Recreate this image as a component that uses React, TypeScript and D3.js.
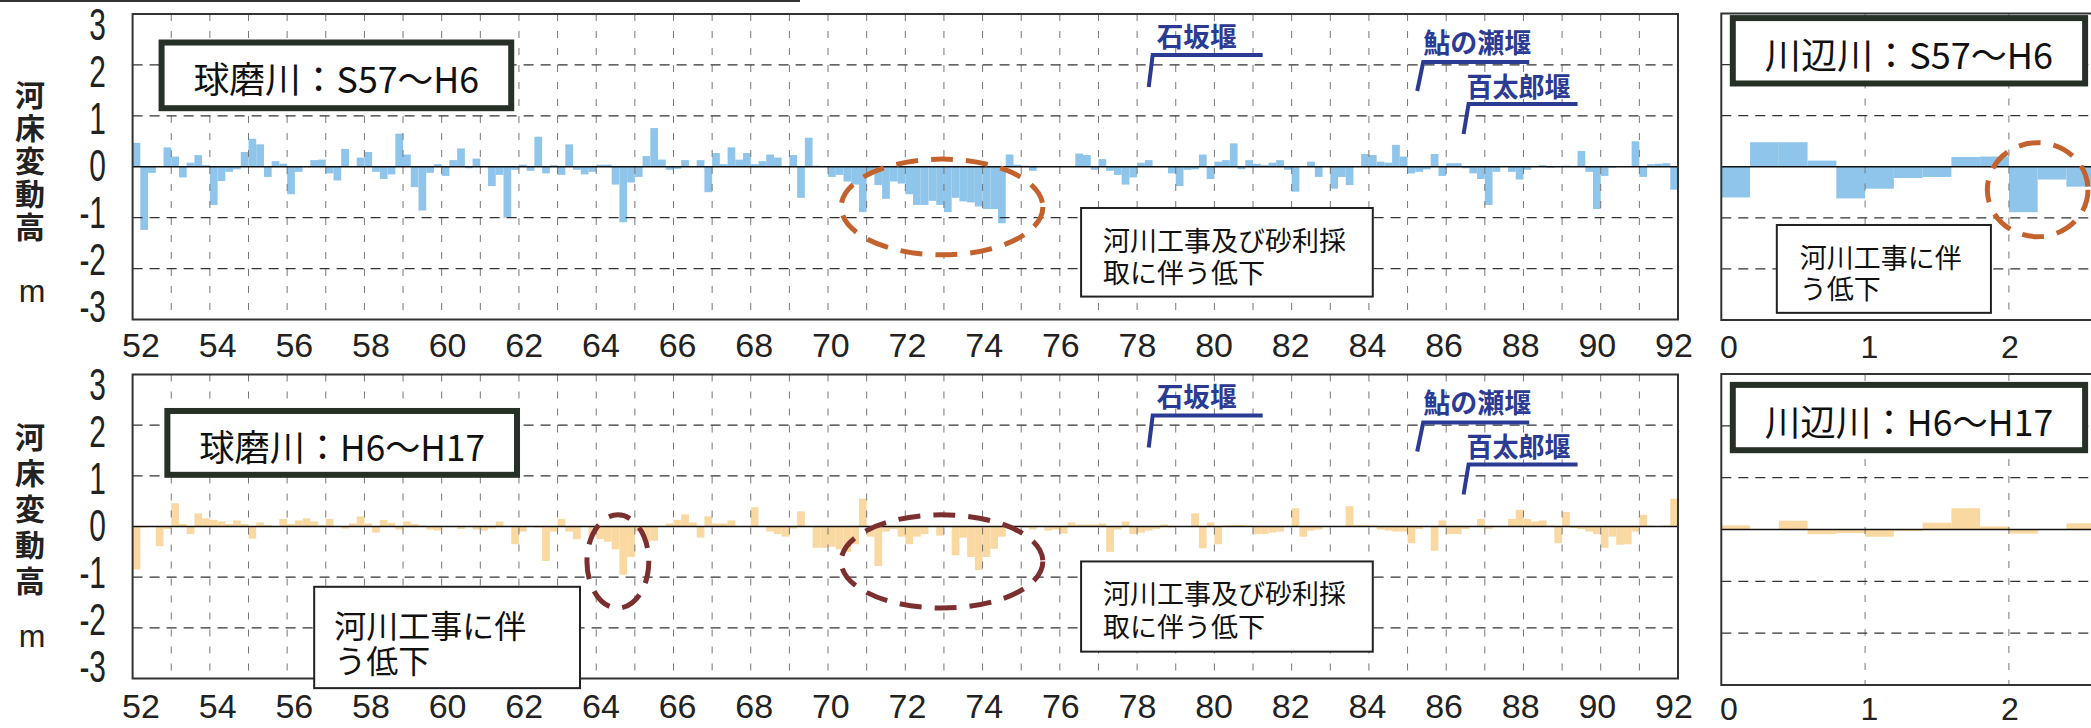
import React from 'react';
import * as d3 from 'd3';

// ---------------- DATA ----------------
// Kuma river (球磨川): 0.2 km sections from 52 km to 92 km
const kumaStartKm = 52;
const kumaEndKm = 92;
const sectionStep = 0.2;
const kumaS57H6 = [
  0.47, -1.24, -0.12, 0, 0.38, 0.2, -0.21, 0.08, 0.23, 0.03,
  -0.75, -0.28, -0.1, -0.05, 0.29, 0.55, 0.44, -0.2, 0.11, 0.06,
  -0.54, -0.1, 0.01, 0.13, 0.14, -0.13, -0.27, 0.35, 0.01, 0.18,
  0.29, -0.1, -0.24, -0.15, 0.65, 0.24, -0.4, -0.86, -0.12, 0.05,
  -0.18, 0.13, 0.36, -0.03, 0.16, 0.01, -0.38, -0.16, -1.0, -0.06,
  0.04, -0.08, 0.59, -0.13, 0.03, -0.16, 0.44, -0.06, -0.15, -0.1,
  0.04, 0.04, -0.35, -1.09, -0.31, -0.2, 0.21, 0.76, 0.14, -0.06,
  -0.04, 0.13, 0.01, 0.13, -0.5, 0.27, 0.05, 0.38, 0.14, 0.27,
  0.05, 0.11, 0.24, 0.18, 0.01, 0.23, -0.61, 0.57, 0.02, 0.01,
  -0.2, -0.16, -0.29, -0.35, -0.89, -0.16, -0.36, -0.63, -0.29, -0.33,
  -0.54, -0.75, -0.75, -0.67, -0.75, -0.89, -0.61, -0.68, -0.7, -0.78,
  -0.83, -0.83, -1.11, 0.24, 0.04, 0.02, -0.08, 0, 0.01, 0,
  0.01, 0, 0.26, 0.23, -0.06, 0.15, -0.08, -0.16, -0.35, -0.21,
  0.08, 0.13, 0.01, 0, -0.13, -0.38, -0.06, -0.05, 0.24, -0.24,
  0.1, 0.13, 0.46, -0.05, 0.13, 0.06, 0.03, 0.08, 0.13, -0.06,
  -0.49, 0, 0.1, -0.2, 0.01, -0.43, -0.2, -0.36, 0, 0.25,
  0.23, 0.1, 0.08, 0.43, 0.2, -0.13, -0.1, -0.05, 0.25, -0.18,
  0.07, 0.07, -0.03, -0.13, -0.24, -0.75, -0.1, 0, -0.1, -0.25,
  -0.06, 0, 0.03, -0.02, 0, 0.02, 0, 0.31, -0.1, -0.83,
  -0.18, -0.02, 0, 0, 0.5, -0.2, 0.05, 0.06, 0.07, -0.45,
];
const kumaH6H17 = [
  -0.85, -0.02, 0, -0.39, -0.05, 0.46, 0.05, -0.15, 0.26, 0.16,
  0.13, 0.1, 0.05, 0.12, 0.05, -0.24, 0.08, 0.03, 0, 0.15,
  0.05, 0.12, 0.16, 0.1, 0.03, 0.15, 0, -0.04, 0.06, 0.2,
  0.06, -0.12, 0.13, 0.07, -0.06, 0.1, 0.05, 0.02, -0.06, -0.08,
  0, 0, -0.05, 0, -0.06, -0.08, -0.04, 0.1, 0, -0.35,
  -0.1, 0, -0.02, -0.68, -0.1, 0.15, -0.1, -0.25, 0, -0.2,
  -0.25, -0.3, -0.45, -0.95, -0.6, -0.1, -0.3, -0.28, 0, 0.06,
  0.13, 0.24, 0.08, -0.22, 0.2, 0.06, 0.06, 0.12, 0, 0,
  0.38, 0, -0.1, -0.15, -0.2, -0.04, 0.3, 0, -0.42, -0.42,
  -0.4, -0.45, -0.5, -0.35, 0.55, -0.2, -0.78, -0.1, -0.05, -0.2,
  -0.35, -0.2, -0.15, 0, -0.18, 0, -0.57, -0.22, -0.6, -0.86,
  -0.6, -0.44, -0.2, 0, 0, -0.02, -0.06, 0, -0.08, -0.06,
  -0.14, 0.08, 0.04, 0.04, 0.04, 0.06, -0.5, -0.06, 0.1, -0.15,
  -0.12, -0.08, -0.05, 0.04, -0.02, 0, 0, 0.26, -0.43, 0.08,
  -0.35, 0.02, 0.03, 0.03, 0.02, -0.15, -0.15, -0.12, -0.1, 0,
  0.36, -0.2, -0.08, -0.06, 0, 0, 0, 0.4, 0.03, 0.03,
  0.02, -0.06, -0.08, -0.1, -0.1, -0.33, -0.05, 0, -0.48, 0.12,
  -0.15, -0.15, -0.05, 0, 0.15, -0.05, 0, 0, 0.15, 0.33,
  0.15, 0.1, 0.12, 0.02, -0.33, 0.29, -0.03, -0.05, -0.1, -0.15,
  -0.42, -0.2, -0.36, -0.35, -0.1, 0.23, 0.02, 0, 0.02, 0.55,
];
const kumaTicks = [52, 54, 56, 58, 60, 62, 64, 66, 68, 70, 72, 74, 76, 78, 80, 82, 84, 86, 88, 90, 92];

// Kawabe river (川辺川): 0.2 km sections from 0 km (visible part)
const kawabeStartKm = 0;
const kawabeS57H6 = [-0.6, 0.48, 0.48, 0.12, -0.62, -0.43, -0.22, -0.2, 0.19, 0.2, -0.89, -0.25, -0.39];
const kawabeH6H17 = [0.08, 0, 0.17, -0.09, -0.07, -0.14, -0.03, 0.13, 0.41, 0.06, -0.08, 0, 0.12];
const kawabeTicks = [0, 1, 2];

const yTicks = [3, 2, 1, 0, -1, -2, -3];
const yGrid = [2, 1, -1, -2];
const yTitle = '河床変動高';
const yUnit = 'm';

const weirNames = ['石坂堰', '鮎の瀬堰', '百太郎堰'];
const weirKm = [78.3, 85.25, 86.45];

// ---------------- STYLE / LAYOUT ----------------
const W = 2091;
const H = 728;
const JP = '"Noto Sans CJK JP", "Noto Sans", sans-serif';
const LAT = '"Liberation Sans", Arial, sans-serif';
const WEIR_COLOR = '#2b3b94';

// weir bracket offsets (px relative to weir x and panel top)
const weirStyle = [
  { topDx: 4, topDy: 41, botDy: 73, endDx: 114, textDx: 48, textDy: 21, tw: 80 },
  { topDx: 6, topDy: 48, botDy: 77, endDx: 112, textDx: 60, textDy: 27, tw: 108 },
  { topDx: 5, topDy: 90, botDy: 120, endDx: 114, textDx: 55, textDy: 71, tw: 104 },
];

const kumaPanels = [
  {
    top: 14, bottom: 319.5, values: kumaS57H6, color: '#8fc5ea',
    labelY: 345, yLabelZero: 166, yTitleTop: 80, yTitleSpacing: 3, mY: 291,
    title: '球磨川：S57～H6', titleBox: { k0: 52.75, k1: 61.8, v0: 2.44, v1: 1.15 },
    notes: [{ k0: 76.55, k1: 84.1, v0: -0.81, v1: -2.55, fs: 27, pad: 22, padTop: 16, lh: 32, lines: ['河川工事及び砂利採', '取に伴う低下'] }],
    ellipses: [{ k: 72.95, v: -0.79, rk: 2.61, rv: 0.94, color: '#c4622e' }],
  },
  {
    top: 374.5, bottom: 678.5, values: kumaH6H17, color: '#f9d8a2',
    labelY: 706, yLabelZero: 526, yTitleTop: 422, yTitleSpacing: 6, mY: 636,
    title: '球磨川：H6～H17', titleBox: { k0: 52.9, k1: 61.95, v0: 2.28, v1: 1.02 },
    notes: [
      { k0: 56.7, k1: 63.58, v0: -1.19, v1: -3.19, fs: 32, pad: 20, padTop: 20, lh: 35, lines: ['河川工事に伴', 'う低下'] },
      { k0: 76.55, k1: 84.1, v0: -0.69, v1: -2.47, fs: 27, pad: 22, padTop: 15, lh: 33, lines: ['河川工事及び砂利採', '取に伴う低下'] },
    ],
    ellipses: [
      { k: 64.56, v: -0.69, rk: 0.8, rv: 0.92, color: '#7b2f2f' },
      { k: 72.95, v: -0.69, rk: 2.61, rv: 0.92, color: '#7b2f2f' },
    ],
  },
];

const kawabePanels = [
  {
    top: 13.5, bottom: 320, values: kawabeS57H6, color: '#8fc5ea', labelY: 347,
    title: '川辺川：S57～H6', titleBox: { k0: 0.08, k1: 2.53, v0: 2.91, v1: 1.63 },
    notes: [{ k0: 0.386, k1: 1.875, v0: -1.14, v1: -2.86, fs: 27, pad: 23, padTop: 16, lh: 31, lines: ['河川工事に伴', 'う低下'] }],
    ellipses: [{ k: 2.2, v: -0.45, rk: 0.35, rv: 0.92, color: '#c4622e' }],
  },
  {
    top: 374, bottom: 685, values: kawabeH6H17, color: '#f9d8a2', labelY: 709,
    title: '川辺川：H6～H17', titleBox: { k0: 0.08, k1: 2.53, v0: 2.79, v1: 1.53 },
    notes: [],
    ellipses: [],
  },
];

type Box = { k0: number; k1: number; v0: number; v1: number };

function TitleBox({ x, y, box, text }: { x: any; y: any; box: Box; text: string }) {
  const x0 = x(box.k0), x1 = x(box.k1), y0 = y(box.v0), y1 = y(box.v1);
  const w = x1 - x0;
  return (
    <g>
      <rect x={x0} y={y0} width={w} height={y1 - y0} fill="#fff" stroke="#263026" strokeWidth={6} />
      <text x={(x0 + x1) / 2} y={(y0 + y1) / 2 + 2} textAnchor="middle" dominantBaseline="central"
        fontFamily={JP} fontSize={36} fill="#111" textLength={w - 64} lengthAdjust="spacingAndGlyphs">{text}</text>
    </g>
  );
}

function Notes({ x, y, notes }: { x: any; y: any; notes: any[] }) {
  return (
    <g>
      {notes.map((n, i) => {
        const x0 = x(n.k0), x1 = x(n.k1), y0 = y(n.v0), y1 = y(n.v1);
        return (
          <g key={i}>
            <rect x={x0} y={y0} width={x1 - x0} height={y1 - y0} fill="#fff" stroke="#222" strokeWidth={2} />
            <foreignObject x={x0 + 2} y={y0 + 2} width={x1 - x0 - 4} height={y1 - y0 - 4}>
              <div style={{
                paddingLeft: n.pad - 2, paddingTop: n.padTop - 2, lineHeight: `${n.lh}px`, fontSize: `${n.fs}px`,
                fontFamily: JP, color: '#111', whiteSpace: 'nowrap', margin: 0,
              }}>
                {n.lines[0]}<br />{n.lines[1]}
              </div>
            </foreignObject>
          </g>
        );
      })}
    </g>
  );
}

function Ellipses({ x, y, items }: { x: any; y: any; items: any[] }) {
  return (
    <g>
      {items.map((e, i) => (
        <ellipse key={i} cx={x(e.k)} cy={y(e.v)} rx={Math.abs(x(e.k + e.rk) - x(e.k))} ry={Math.abs(y(e.v) - y(e.v + e.rv))}
          fill="none" stroke={e.color} strokeWidth={5} strokeDasharray="22 13" />
      ))}
    </g>
  );
}

function Bars({ x, y, values, start, color }: any) {
  return (
    <g>
      {values.map((v: number, i: number) => {
        const k = start + i * sectionStep;
        const xa = x(k), xb = x(k + sectionStep);
        const ya = y(Math.max(v, 0)), yb = y(Math.min(v, 0));
        return <rect key={i} x={xa} y={ya} width={xb - xa} height={Math.max(0, yb - ya)} fill={color} />;
      })}
    </g>
  );
}

function KumaPanel({ cfg }: { cfg: any }) {
  const x = d3.scaleLinear().domain([kumaStartKm, kumaEndKm]).range([132.6, 1678]);
  const y = d3.scaleLinear().domain([-3, 3]).range([cfg.bottom, cfg.top]);
  const xl = d3.scaleLinear().domain([kumaStartKm, kumaEndKm]).range([141, 1674]);
  const yl = d3.scaleLinear().domain([-3, 3]).range([cfg.yLabelZero + 141, cfg.yLabelZero - 141]);
  const vGrid = d3.range(kumaStartKm + 1, kumaEndKm);
  return (
    <g>
      <Bars x={x} y={y} values={cfg.values} start={kumaStartKm} color={cfg.color} />
      {vGrid.map((k) => (
        <line key={k} x1={x(k)} x2={x(k)} y1={cfg.top} y2={cfg.bottom} stroke="#777" strokeWidth={1} strokeDasharray="7 10" />
      ))}
      {yGrid.map((v) => (
        <line key={v} x1={x(kumaStartKm)} x2={x(kumaEndKm)} y1={y(v)} y2={y(v)} stroke="#333" strokeWidth={1.2} strokeDasharray="10 7" />
      ))}
      <line x1={x(kumaStartKm)} x2={x(kumaEndKm)} y1={y(0)} y2={y(0)} stroke="#111" strokeWidth={1.6} />
      <rect x={x(kumaStartKm)} y={cfg.top} width={x(kumaEndKm) - x(kumaStartKm)} height={cfg.bottom - cfg.top} fill="none" stroke="#333" strokeWidth={2} />
      {/* weirs */}
      {weirKm.map((k, i) => {
        const s = weirStyle[i];
        const bx = x(k);
        return (
          <g key={i}>
            <polyline points={`${bx},${cfg.top + s.botDy} ${bx + s.topDx},${cfg.top + s.topDy} ${bx + s.endDx},${cfg.top + s.topDy}`}
              fill="none" stroke={WEIR_COLOR} strokeWidth={4} />
            <text x={bx + s.textDx} y={cfg.top + s.textDy} textAnchor="middle" dominantBaseline="central"
              fontFamily={JP} fontWeight={700} fontSize={27} fill={WEIR_COLOR}
              textLength={s.tw} lengthAdjust="spacingAndGlyphs">{weirNames[i]}</text>
          </g>
        );
      })}
      <Ellipses x={x} y={y} items={cfg.ellipses} />
      <TitleBox x={x} y={y} box={cfg.titleBox} text={cfg.title} />
      <Notes x={x} y={y} notes={cfg.notes} />
      {/* x tick labels */}
      {kumaTicks.map((t) => (
        <text key={t} x={xl(t)} y={cfg.labelY} textAnchor="middle" dominantBaseline="central" fontFamily={LAT} fontSize={34} fill="#222">{t}</text>
      ))}
      {/* y tick labels (condensed) */}
      {yTicks.map((t) => (
        <text key={t} transform={`translate(106,${yl(t)}) scale(0.68,1)`} textAnchor="end" dominantBaseline="central"
          fontFamily={LAT} fontSize={44} fill="#222">{t}</text>
      ))}
      {/* y title: vertical writing */}
      <text x={30} y={cfg.yTitleTop} fontFamily={JP} fontWeight={700} fontSize={30} fill="#222"
        letterSpacing={cfg.yTitleSpacing} style={{ writingMode: 'vertical-rl' as any }}>{yTitle}</text>
      <text x={32} y={cfg.mY} textAnchor="middle" dominantBaseline="central" fontFamily={LAT} fontSize={32} fill="#222">{yUnit}</text>
    </g>
  );
}

function KawabePanel({ cfg }: { cfg: any }) {
  const x = d3.scaleLinear().domain([0, 3]).range([1721.3, 1721.3 + 3 * 143.8]);
  const y = d3.scaleLinear().domain([-3, 3]).range([cfg.bottom, cfg.top]);
  const xl = d3.scaleLinear().domain([0, 2]).range([1729, 2010]);
  return (
    <g>
      <Bars x={x} y={y} values={cfg.values} start={kawabeStartKm} color={cfg.color} />
      {[1, 2].map((k) => (
        <line key={k} x1={x(k)} x2={x(k)} y1={cfg.top} y2={cfg.bottom} stroke="#777" strokeWidth={1} strokeDasharray="7 10" />
      ))}
      {yGrid.map((v) => (
        <line key={v} x1={x(0)} x2={x(3)} y1={y(v)} y2={y(v)} stroke="#333" strokeWidth={1.2} strokeDasharray="10 7" />
      ))}
      <line x1={x(0)} x2={x(3)} y1={y(0)} y2={y(0)} stroke="#111" strokeWidth={1.6} />
      <rect x={x(0)} y={cfg.top} width={x(3) - x(0)} height={cfg.bottom - cfg.top} fill="none" stroke="#333" strokeWidth={2} />
      <Ellipses x={x} y={y} items={cfg.ellipses} />
      <TitleBox x={x} y={y} box={cfg.titleBox} text={cfg.title} />
      <Notes x={x} y={y} notes={cfg.notes} />
      {kawabeTicks.map((t) => (
        <text key={t} x={xl(t)} y={cfg.labelY} textAnchor="middle" dominantBaseline="central" fontFamily={LAT} fontSize={32} fill="#222">{t}</text>
      ))}
    </g>
  );
}

export default function App() {
  return (
    <svg width={W} height={H} viewBox={`0 0 ${W} ${H}`}
      style={{ position: 'absolute', left: 0, top: 0, background: '#fff', display: 'block' }}>
      <rect x={0} y={0} width={W} height={H} fill="#fff" />
      <line x1={0} x2={800} y1={1} y2={1} stroke="#333" strokeWidth={2} />
      {kumaPanels.map((p, i) => <KumaPanel key={i} cfg={p} />)}
      {kawabePanels.map((p, i) => <KawabePanel key={i} cfg={p} />)}
    </svg>
  );
}
